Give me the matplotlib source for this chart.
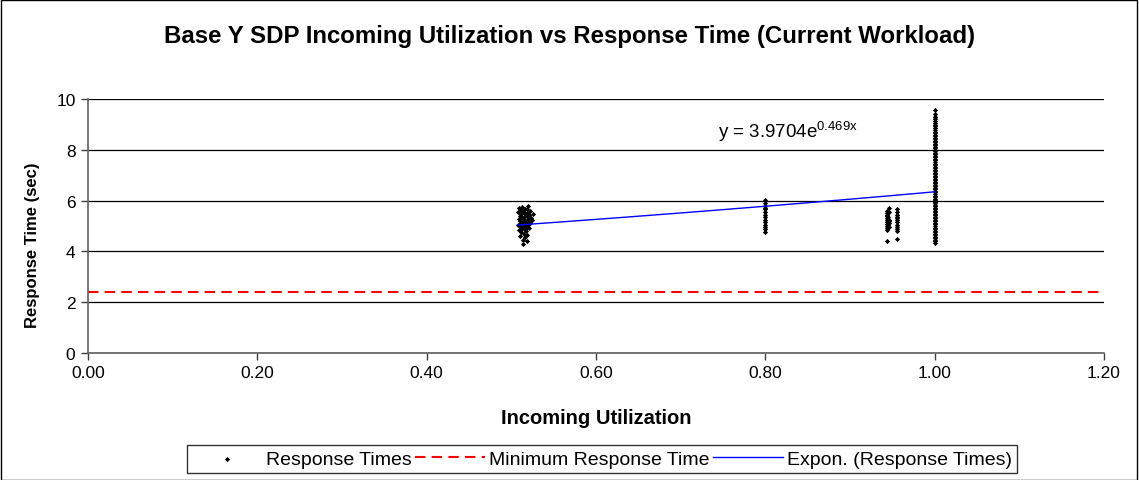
import numpy as np
import matplotlib
matplotlib.use("Agg")
import matplotlib.pyplot as plt
from matplotlib.patches import Rectangle

plt.rcParams['font.family'] = ['Liberation Sans', 'DejaVu Sans']
plt.rcParams['mathtext.fontset'] = 'custom'
plt.rcParams['mathtext.rm'] = 'Liberation Sans'
plt.rcParams['mathtext.it'] = 'Liberation Sans'

title = "Base Y SDP Incoming Utilization vs Response Time (Current Workload)"
x_label = "Incoming Utilization"
y_label = "Response Time (sec)"
x_ticks = [0.00, 0.20, 0.40, 0.60, 0.80, 1.00, 1.20]
y_ticks = [0, 2, 4, 6, 8, 10]

# Scatter clusters (Incoming Utilization, Response Time)
cluster_a_x = [0.508, 0.508, 0.509, 0.509, 0.510, 0.510, 0.510, 0.511, 0.511, 0.512,
               0.512, 0.512, 0.513, 0.513, 0.513, 0.514, 0.514, 0.514, 0.515, 0.515,
               0.515, 0.516, 0.516, 0.516, 0.517, 0.517, 0.517, 0.518, 0.518, 0.518,
               0.519, 0.519, 0.520, 0.520, 0.520, 0.521, 0.521, 0.522, 0.522, 0.523,
               0.524, 0.525, 0.514, 0.516, 0.511, 0.519, 0.512, 0.515, 0.518, 0.509]
cluster_a_y = [5.55, 5.05, 5.70, 4.85, 5.40, 5.20, 4.60, 5.62, 4.95, 5.48,
               5.10, 4.75, 5.75, 5.30, 4.90, 5.58, 5.15, 4.45, 5.35, 5.00,
               4.70, 5.68, 5.25, 4.88, 5.45, 5.08, 4.80, 5.52, 5.18, 4.98,
               5.38, 4.65, 5.78, 5.28, 5.02, 5.42, 4.92, 5.60, 5.12, 5.32,
               5.22, 5.48, 4.30, 4.55, 5.35, 5.65, 5.00, 5.50, 4.40, 5.28]

cluster_b_x = [0.800, 0.800, 0.800, 0.800, 0.800, 0.800, 0.800, 0.800, 0.800, 0.800,
               0.800, 0.800, 0.800, 0.800]
cluster_b_y = [6.02, 5.90, 5.78, 5.65, 5.55, 5.45, 5.35, 5.25, 5.15, 5.05,
               4.95, 4.88, 4.78, 5.70]

cluster_c_x = [0.944, 0.944, 0.944, 0.944, 0.944, 0.944, 0.944, 0.944, 0.944, 0.944,
               0.944, 0.944, 0.945, 0.945, 0.946, 0.946, 0.946, 0.946, 0.946, 0.946,
               0.955, 0.955, 0.955, 0.955, 0.955, 0.955, 0.955, 0.955, 0.955, 0.955,
               0.955, 0.955]
cluster_c_y = [5.60, 5.50, 5.40, 5.30, 5.22, 5.15, 5.08, 5.00, 4.92, 4.85,
               4.40, 5.45, 5.35, 5.05, 5.72, 5.55, 5.25, 5.12, 4.95, 5.18,
               5.65, 5.55, 5.45, 5.35, 5.25, 5.15, 5.05, 4.95, 4.88, 4.80,
               4.50, 5.30]

cluster_d_x = [1.000] * 86
cluster_d_y = [9.55, 9.40, 9.28, 9.20, 9.12, 9.05, 8.98, 8.92, 8.85, 8.78,
               8.72, 8.66, 8.60, 8.54, 8.48, 8.42, 8.36, 8.30, 8.24, 8.18,
               8.12, 8.06, 8.00, 7.94, 7.88, 7.82, 7.76, 7.70, 7.64, 7.58,
               7.52, 7.46, 7.40, 7.34, 7.28, 7.22, 7.16, 7.10, 7.04, 6.98,
               6.92, 6.86, 6.80, 6.74, 6.68, 6.62, 6.56, 6.50, 6.44, 6.38,
               6.32, 6.26, 6.20, 6.14, 6.08, 6.02, 5.96, 5.90, 5.84, 5.78,
               5.72, 5.66, 5.60, 5.54, 5.48, 5.42, 5.36, 5.30, 5.24, 5.18,
               5.12, 5.06, 5.00, 4.94, 4.88, 4.82, 4.76, 4.70, 4.64, 4.58,
               4.52, 4.46, 4.40, 4.35, 9.30, 8.70]

min_response_time = 2.4
trend_a = 3.9704
trend_b = 0.469
trend_x = [0.508, 0.55, 0.60, 0.65, 0.70, 0.75, 0.80, 0.85, 0.90, 0.95, 1.00]

fig = plt.figure(figsize=(11.39, 4.81), dpi=100)
ax = fig.add_axes([88/1139, 1 - 354/481, (1104-88)/1139, 254/481])

all_x = cluster_a_x + cluster_b_x + cluster_c_x + cluster_d_x
all_y = cluster_a_y + cluster_b_y + cluster_c_y + cluster_d_y

ax.plot([0, 1.2], [min_response_time, min_response_time], color='#ff0000',
        linestyle=(0, (5, 3)), linewidth=1.5, label='Minimum Response Time', zorder=2)
ax.scatter(all_x, all_y, s=7, marker='D', color='black', linewidths=0,
           label='Response Times', zorder=3)
ty = [trend_a * np.exp(trend_b * v) for v in trend_x]
ax.plot(trend_x, ty, color='#0000ff', linewidth=1.0,
        label='Expon. (Response Times)', zorder=4)

ax.set_xlim(0, 1.2)
ax.set_ylim(0, 10)
ax.set_xticks(x_ticks)
ax.set_xticklabels([f"{v:.2f}" for v in x_ticks])
ax.set_yticks(y_ticks)
ax.yaxis.grid(True, color='black', linewidth=0.9)
ax.set_axisbelow(True)
for s in ['top', 'right']:
    ax.spines[s].set_visible(False)
for s in ['left', 'bottom']:
    ax.spines[s].set_color('#606060')
    ax.spines[s].set_linewidth(1.2)
ax.tick_params(axis='both', direction='out', length=5, width=1, color='#404040',
               labelsize=12.5, pad=4)

ax.set_xlabel(x_label, fontsize=14.5, fontweight='bold', labelpad=20)
ax.set_ylabel(y_label, fontsize=12, fontweight='bold')
ax.yaxis.set_label_coords(-48/1016, 0.43)
fig.text(0.5, 1 - 37/481, title, ha='center', va='center', fontsize=17.3, fontweight='bold')

ax.text(0.744, 8.75, r"y = 3.9704e$^{\mathrm{0.469x}}$", fontsize=13.5, ha='left', va='center')

handles, labels = ax.get_legend_handles_labels()
order = [labels.index('Response Times'), labels.index('Minimum Response Time'),
         labels.index('Expon. (Response Times)')]
leg = fig.legend([handles[i] for i in order], [labels[i] for i in order],
                 loc='center', bbox_to_anchor=(602/1139, 1 - 460/481), ncol=3,
                 frameon=True, fancybox=False, edgecolor='black', fontsize=14,
                 handlelength=3.6, handletextpad=0.2, columnspacing=0.2,
                 borderpad=0.25, markerscale=1.0)
leg.get_frame().set_linewidth(1.0)

fig.patches.append(Rectangle((0.0005, 0.001), 0.998, 0.997, transform=fig.transFigure,
                             fill=False, edgecolor='black', linewidth=1.0))

fig.savefig('out.png', dpi=100)
